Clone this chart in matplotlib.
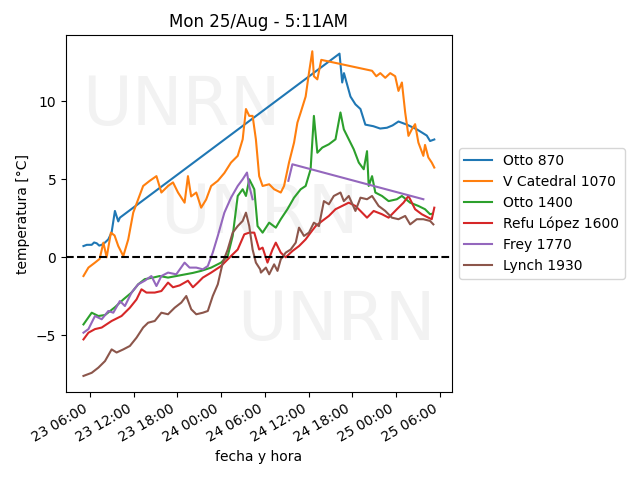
import numpy as np
import pandas as pd
import matplotlib
matplotlib.use('Agg')
import matplotlib.pyplot as plt
import matplotlib.dates as mdates

####################
# Datos (horas desde 23/Aug 00:00, temperatura en ºC)
####################
t0 = pd.Timestamp('2025-08-23 00:00')

otto870_h = [5.14, 5.6, 6.27, 6.6, 6.95, 7.3, 7.64, 8.1, 8.55, 9.0, 9.45, 9.91, 10.13, 40.23, 40.6, 40.84,
             41.73, 42.41, 43.1, 43.77, 44.86, 45.8, 46.73, 47.5, 48.31, 49.46, 50.82, 52.19, 52.64, 53.22]
otto870_T = [0.72, 0.8, 0.8, 0.95, 0.9, 0.75, 0.8, 0.95, 1.15, 1.6, 2.97, 2.3, 2.54, 13.05, 11.2, 11.8,
             10.3, 9.8, 9.5, 8.5, 8.4, 8.25, 8.3, 8.45, 8.7, 8.5, 8.2, 7.8, 7.45, 7.55]

catedral_h = [5.14, 5.82, 6.72, 7.36, 7.87, 8.32, 8.9, 9.4, 9.91, 10.6, 11.28, 11.96,
              12.64, 13.32, 14.22, 15.14, 15.82, 16.73, 17.41, 18.1, 19.0, 19.46, 19.9,
              20.6, 21.27, 21.95, 22.64, 23.55, 24.45, 25.36, 26.28, 26.96, 27.41, 27.86,
              28.32, 28.77, 29.22, 29.69, 30.59, 31.27, 32.18, 32.63, 33.31, 34.0, 34.46,
              34.91, 35.59, 36.04, 36.5, 36.72, 37.19, 37.73, 44.69, 45.27, 45.82, 46.5,
              47.18, 47.86, 48.31, 48.78, 49.23, 49.68, 50.14, 50.59, 51.04, 51.72, 51.95,
              52.4, 52.87, 53.22]
catedral_T = [-1.2, -0.66, -0.34, -0.1, 0.94, 0.0, 1.58, 1.4, 0.72, 0.08, 1.15, 2.86,
              3.72, 4.57, 4.9, 5.2, 4.15, 4.57, 4.8, 4.15, 3.5, 5.2, 3.9,
              4.15, 3.18, 3.7, 4.57, 4.9, 5.4, 6.07, 6.5, 7.56, 9.5, 9.06,
              9.06, 7.56, 5.2, 4.57, 4.68, 4.36, 4.15, 4.57, 6.07, 7.35, 8.63,
              9.28, 10.3, 11.8, 13.2, 11.6, 11.4, 12.65, 11.95, 11.6, 11.8, 11.5,
              11.8, 11.6, 10.66, 11.2, 9.28, 7.78, 8.2, 8.53, 7.35, 6.5, 7.2,
              6.4, 6.07, 5.75]

otto1400_h = [5.14, 6.27, 7.18, 8.09, 9.45, 10.6, 11.73, 12.64, 13.54, 14.68, 15.59,
              16.73, 17.86, 19.0, 20.14, 21.27, 22.64, 24.0, 24.91, 25.59, 26.28, 26.96,
              27.41, 27.86, 28.55, 29.0, 29.69, 30.59, 31.5, 32.18, 33.09, 34.0, 34.91,
              35.59, 36.27, 36.72, 37.19, 37.87, 38.77, 39.68, 40.36, 40.82, 41.5, 42.18,
              42.87, 43.55, 44.0, 44.23, 44.69, 45.14, 46.05, 46.96, 48.09, 48.78, 49.91,
              51.04, 51.95, 52.64, 53.0]
otto1400_T = [-4.3, -3.55, -3.76, -3.7, -3.2, -2.7, -2.26, -1.73, -1.4, -1.3, -1.2,
              -1.3, -1.2, -1.1, -1.0, -0.87, -0.66, -0.34, 0.08, 1.37, 3.93, 4.36,
              3.93, 5.0, 4.36, 2.0, 1.58, 2.22, 1.9, 2.44, 3.08, 3.82, 4.36,
              4.57, 5.64, 9.06, 6.7, 7.03, 7.24, 7.56, 9.28, 8.2, 7.56, 6.92,
              6.07, 5.64, 6.8, 4.57, 5.2, 4.15, 3.93, 3.6, 3.72, 3.93, 3.5,
              3.29, 3.08, 2.76, 2.8]

refu_h = [5.14, 5.82, 6.72, 7.64, 9.0, 10.36, 11.5, 12.41, 13.09, 13.77, 14.91, 15.82,
          16.73, 17.41, 18.32, 19.46, 20.14, 20.82, 21.5, 22.64, 24.0, 25.36, 26.28,
          27.18, 27.86, 28.55, 29.22, 29.69, 30.36, 31.05, 31.5, 32.18, 32.86, 33.77,
          34.68, 35.59, 36.27, 36.96, 37.86, 38.77, 39.68, 40.59, 41.5, 42.41, 43.1,
          44.0, 44.91, 46.05, 46.96, 48.09, 49.0, 49.68, 50.59, 51.5, 52.41, 52.87, 53.22]
refu_T = [-5.26, -4.83, -4.6, -4.5, -4.08, -3.76, -3.23, -2.7, -2.05, -2.26, -2.26, -2.16,
          -1.62, -1.92, -1.8, -1.5, -1.92, -1.62, -1.3, -0.98, -0.56, 0.08, 0.5,
          1.47, 1.58, 1.58, 0.5, 0.62, -0.34, 0.5, 0.94, 0.3, 0.0, 0.4,
          0.72, 1.15, 1.58, 2.0, 2.33, 2.65, 3.08, 3.29, 3.5, 3.29, 2.97,
          2.54, 2.97, 2.76, 2.54, 3.08, 3.5, 3.93, 3.08, 2.76, 2.54, 2.44, 3.18]

frey_h = [5.14, 5.82, 6.72, 7.64, 8.55, 9.23, 10.13, 10.82, 11.73, 12.64, 13.54, 14.45,
          15.14, 15.82, 16.73, 17.86, 19.0, 19.68, 20.6, 21.5, 22.18, 22.86, 23.55,
          24.45, 25.36, 26.28, 26.96, 27.55, 27.86, 28.32,
          29.0,
          33.22, 33.77, 51.72]
frey_T = [-4.83, -4.6, -3.76, -3.97, -3.44, -3.55, -2.8, -3.12, -2.26, -1.73, -1.5, -1.2,
          -1.84, -1.2, -0.98, -1.09, -0.34, -0.66, -0.66, -0.77, -0.56, 0.3, 1.37,
          2.86, 3.82, 4.57, 5.0, 5.43, 4.57, 3.72,
          np.nan,
          4.9, 5.96, 3.72]

lynch_h = [5.14, 6.27, 7.18, 8.09, 9.0, 9.68, 10.6, 11.5, 12.41, 13.32, 14.0, 14.91,
           15.82, 16.73, 17.64, 18.55, 19.23, 19.91, 20.6, 21.5, 22.18, 22.86, 23.55,
           24.23, 24.91, 25.59, 26.28, 26.96, 27.41, 27.86, 28.32, 28.77, 29.36, 29.46,
           30.14, 30.59, 31.27, 31.73, 32.18, 32.86, 33.54, 34.23, 34.68, 35.36, 36.04,
           36.72, 37.41, 38.09, 38.77, 39.45, 40.36, 40.82, 41.5, 42.41, 43.1, 44.0,
           44.69, 45.59, 46.5, 47.41, 48.31, 49.23, 49.91, 50.82, 51.72, 52.64, 53.09]
lynch_T = [-7.6, -7.4, -7.07, -6.65, -5.9, -6.1, -5.9, -5.68, -5.15, -4.5, -4.19, -4.08,
           -3.55, -3.65, -3.23, -2.9, -2.48, -3.33, -3.65, -3.55, -3.44, -2.48, -1.73,
           -0.34, 0.5, 1.58, 2.0, 2.33, 2.86, 2.0, 0.5, -0.34, -0.77, -0.98,
           -0.66, -1.09, -0.45, -0.87, -0.13, 0.3, 0.5, 0.94, 1.9, 1.37, 1.58,
           2.22, 2.0, 3.6, 3.4, 3.93, 4.15, 3.6, 3.93, 2.97, 3.82, 3.72,
           3.93, 3.29, 2.97, 2.54, 2.44, 2.65, 2.11, 2.44, 2.44, 2.33, 2.11]

series = [
    ('Otto 870', otto870_h, otto870_T),
    ('V Catedral 1070', catedral_h, catedral_T),
    ('Otto 1400', otto1400_h, otto1400_T),
    ('Refu López 1600', refu_h, refu_T),
    ('Frey 1770', frey_h, frey_T),
    ('Lynch 1930', lynch_h, lynch_T),
]


def to_dates(hours):
    return t0 + pd.to_timedelta(np.asarray(hours), unit='h')


######################
# Plot
######################
fig, ax = plt.subplots(figsize=(6.4, 4.8), dpi=100)
fig.subplots_adjust(left=0.103, right=0.706, bottom=0.183, top=0.927)

# marca de agua
for fx, fy in [(0.3, 0.8), (0.5, 0.5), (0.7, 0.2)]:
    ax.text(fx, fy, 'UNRN', transform=ax.transAxes, fontsize=49, color='0.5',
            alpha=0.1, ha='center', va='center', zorder=0)

for name, h, T in series:
    ax.plot(to_dates(h), T, label=name, lw=1.5)

ax.axhline(0, linestyle='--', color='black')

ax.xaxis.set_major_locator(mdates.HourLocator(byhour=range(0, 24, 6)))
ax.xaxis.set_major_formatter(mdates.DateFormatter('%d %H:%M'))
plt.setp(ax.get_xticklabels(), rotation=30, ha='right')

ax.set_xlabel('fecha y hora')
ax.set_ylabel('temperatura [°C]')
ax.set_title('Mon 25/Aug - 5:11AM')
ax.legend(loc='center left', bbox_to_anchor=(1.0, 0.5))

fig.savefig('out.png', dpi=100)
